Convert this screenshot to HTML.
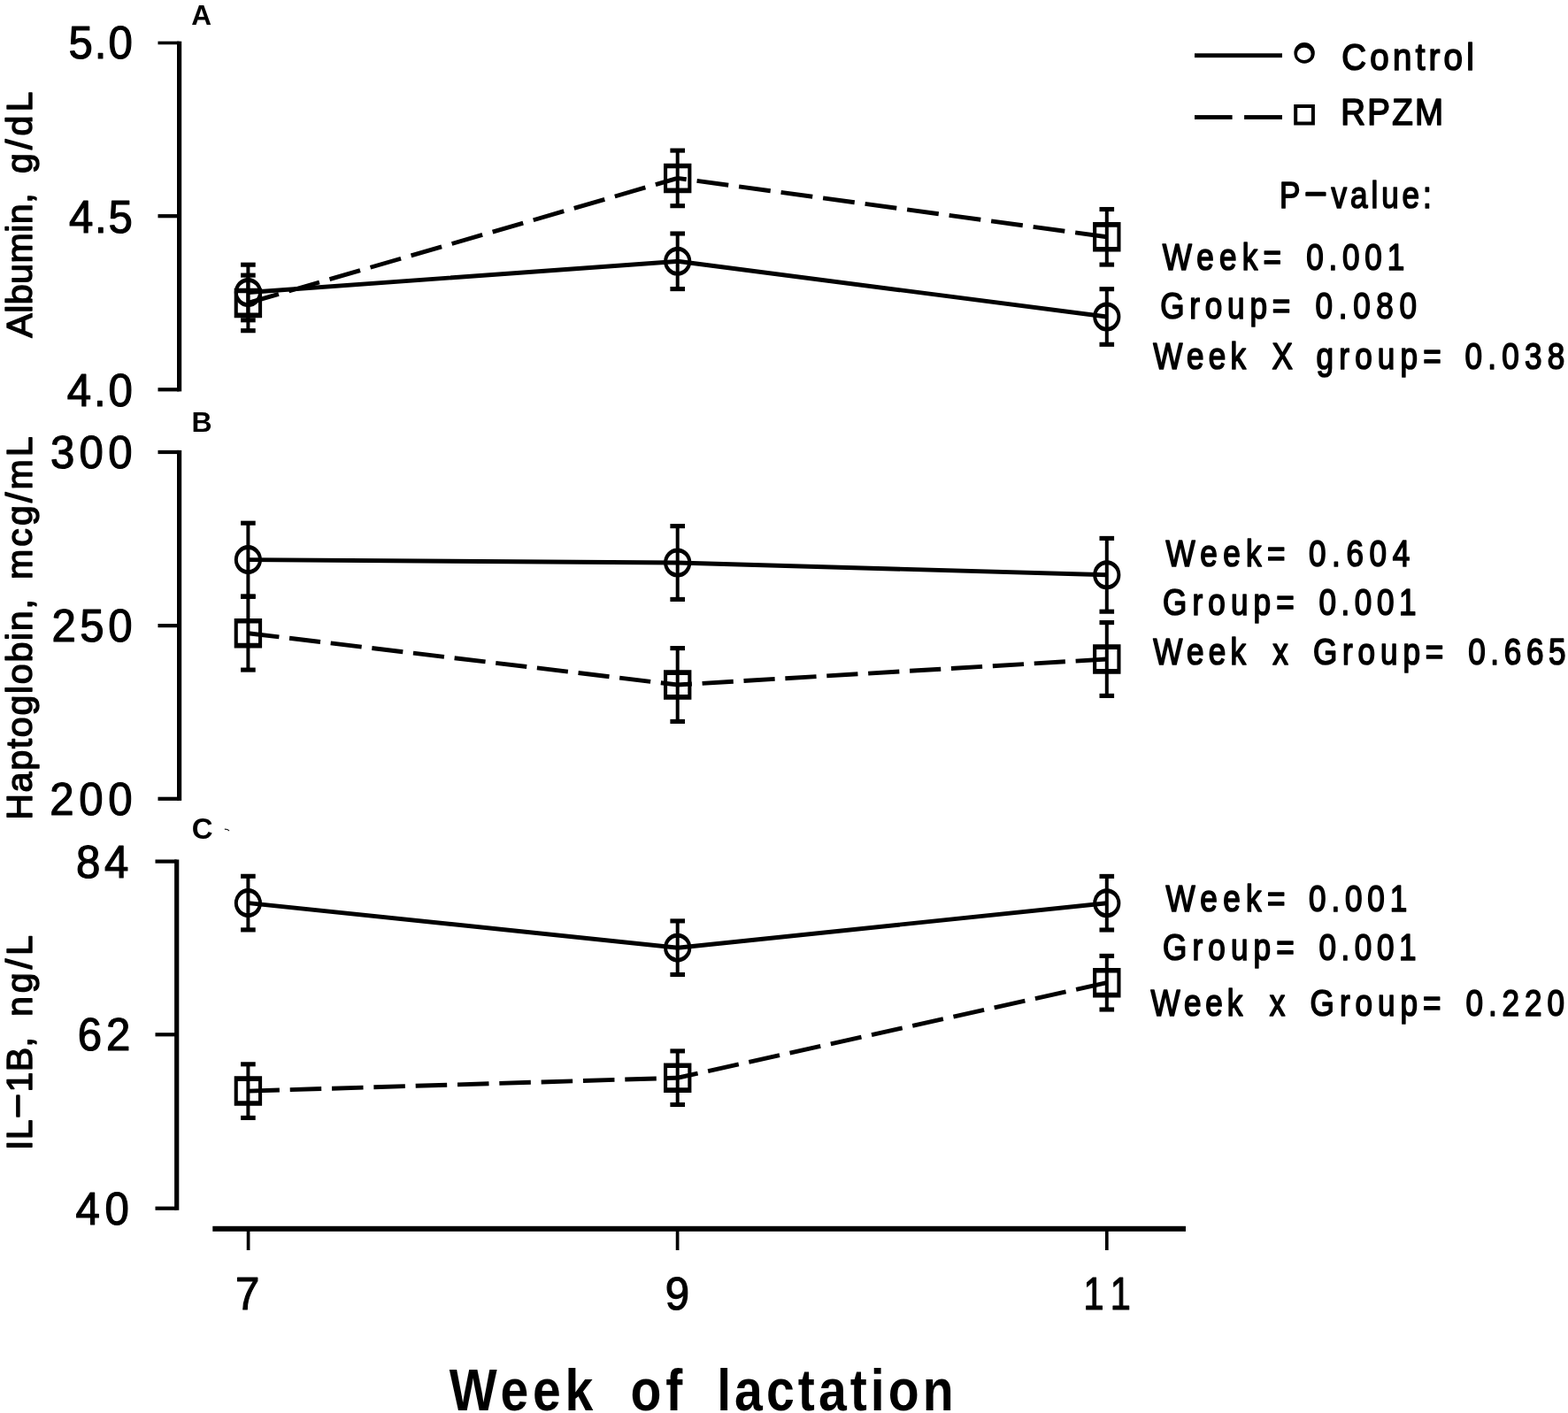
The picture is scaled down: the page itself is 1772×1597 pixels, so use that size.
<!DOCTYPE html>
<html lang="en">
<head>
<meta charset="utf-8">
<title>Albumin, haptoglobin and IL-1B by week of lactation</title>
<style>
html,body{margin:0;padding:0;background:#fff}
#fig{display:block;width:1772px;height:1597px;background:#fff}
#fig text{font-family:"Liberation Sans", sans-serif;fill:#000;white-space:pre}
</style>
</head>
<body>
<svg id="fig" width="1772" height="1597" viewBox="0 0 1772 1597">
<g id="graphics" fill="#000">
<rect x="200.00" y="46.70" width="5.20" height="395.70"/>
<rect x="178.50" y="46.70" width="24.10" height="3.60"/>
<rect x="178.50" y="242.10" width="24.10" height="4.20"/>
<rect x="178.50" y="438.20" width="24.10" height="4.20"/>
<rect x="200.00" y="508.90" width="5.20" height="396.00"/>
<rect x="178.50" y="508.90" width="24.10" height="4.20"/>
<rect x="178.50" y="705.00" width="24.10" height="4.20"/>
<rect x="178.50" y="900.70" width="24.10" height="4.20"/>
<rect x="197.10" y="971.50" width="5.20" height="396.30"/>
<rect x="175.50" y="971.50" width="24.20" height="4.20"/>
<rect x="175.50" y="1167.20" width="24.20" height="4.20"/>
<rect x="175.50" y="1363.60" width="24.20" height="4.20"/>
<rect x="240.30" y="1385.80" width="1099.70" height="6.00"/>
<rect x="278.75" y="1388.00" width="3.70" height="25.00"/>
<rect x="763.75" y="1388.00" width="3.70" height="25.00"/>
<rect x="1248.95" y="1388.00" width="3.70" height="25.00"/>
<polyline points="280.4,330.5 765.7,295.3 1250.8,358.0" fill="none" stroke="#000" stroke-width="4.9" stroke-linejoin="round"/>
<polyline points="280.4,342.4 765.7,201.4 1250.8,267.8" fill="none" stroke="#000" stroke-width="4.9" pathLength="20.75" stroke-dasharray="0.75 0.25"/>
<rect x="278.40" y="299.20" width="4.00" height="62.60"/>
<rect x="272.10" y="296.65" width="16.60" height="5.10"/>
<rect x="272.10" y="359.25" width="16.60" height="5.10"/>
<path fill-rule="evenodd" d="M264.80 330.50a15.6 16.5 0 1 0 31.2 0a15.6 16.5 0 1 0 -31.2 0zM268.80 330.50a11.6 11.5 0 1 0 23.2 0a11.6 11.5 0 1 0 -23.2 0z"/>
<rect x="763.70" y="264.00" width="4.00" height="62.60"/>
<rect x="757.40" y="261.45" width="16.60" height="5.10"/>
<rect x="757.40" y="324.05" width="16.60" height="5.10"/>
<path fill-rule="evenodd" d="M750.10 295.30a15.6 16.5 0 1 0 31.2 0a15.6 16.5 0 1 0 -31.2 0zM754.10 295.30a11.6 11.5 0 1 0 23.2 0a11.6 11.5 0 1 0 -23.2 0z"/>
<rect x="1248.80" y="326.70" width="4.00" height="62.60"/>
<rect x="1242.50" y="324.15" width="16.60" height="5.10"/>
<rect x="1242.50" y="386.75" width="16.60" height="5.10"/>
<path fill-rule="evenodd" d="M1235.20 358.00a15.6 16.5 0 1 0 31.2 0a15.6 16.5 0 1 0 -31.2 0zM1239.20 358.00a11.6 11.5 0 1 0 23.2 0a11.6 11.5 0 1 0 -23.2 0z"/>
<rect x="278.40" y="311.10" width="4.00" height="62.60"/>
<rect x="272.10" y="308.55" width="16.60" height="5.10"/>
<rect x="272.10" y="371.15" width="16.60" height="5.10"/>
<path fill-rule="evenodd" d="M264.70 325.65h31.4v33.5h-31.4zM268.80 331.30h23.2v22.2h-23.2z"/>
<rect x="763.70" y="170.10" width="4.00" height="62.60"/>
<rect x="757.40" y="167.55" width="16.60" height="5.10"/>
<rect x="757.40" y="230.15" width="16.60" height="5.10"/>
<path fill-rule="evenodd" d="M750.00 184.65h31.4v33.5h-31.4zM754.10 190.30h23.2v22.2h-23.2z"/>
<rect x="1248.80" y="236.50" width="4.00" height="62.60"/>
<rect x="1242.50" y="233.95" width="16.60" height="5.10"/>
<rect x="1242.50" y="296.55" width="16.60" height="5.10"/>
<path fill-rule="evenodd" d="M1235.10 251.05h31.4v33.5h-31.4zM1239.20 256.70h23.2v22.2h-23.2z"/>
<polyline points="280.4,632.6 765.7,636.0 1250.8,649.8" fill="none" stroke="#000" stroke-width="4.9" stroke-linejoin="round"/>
<polyline points="280.4,715.7 765.7,774.0 1250.8,745.0" fill="none" stroke="#000" stroke-width="4.9" pathLength="20.75" stroke-dasharray="0.75 0.25"/>
<rect x="278.40" y="591.20" width="4.00" height="82.80"/>
<rect x="272.10" y="588.65" width="16.60" height="5.10"/>
<rect x="272.10" y="671.45" width="16.60" height="5.10"/>
<path fill-rule="evenodd" d="M264.80 632.60a15.6 16.5 0 1 0 31.2 0a15.6 16.5 0 1 0 -31.2 0zM268.80 632.60a11.6 11.5 0 1 0 23.2 0a11.6 11.5 0 1 0 -23.2 0z"/>
<rect x="763.70" y="594.60" width="4.00" height="82.80"/>
<rect x="757.40" y="592.05" width="16.60" height="5.10"/>
<rect x="757.40" y="674.85" width="16.60" height="5.10"/>
<path fill-rule="evenodd" d="M750.10 636.00a15.6 16.5 0 1 0 31.2 0a15.6 16.5 0 1 0 -31.2 0zM754.10 636.00a11.6 11.5 0 1 0 23.2 0a11.6 11.5 0 1 0 -23.2 0z"/>
<rect x="1248.80" y="608.40" width="4.00" height="82.80"/>
<rect x="1242.50" y="605.85" width="16.60" height="5.10"/>
<rect x="1242.50" y="688.65" width="16.60" height="5.10"/>
<path fill-rule="evenodd" d="M1235.20 649.80a15.6 16.5 0 1 0 31.2 0a15.6 16.5 0 1 0 -31.2 0zM1239.20 649.80a11.6 11.5 0 1 0 23.2 0a11.6 11.5 0 1 0 -23.2 0z"/>
<rect x="278.40" y="674.30" width="4.00" height="82.80"/>
<rect x="272.10" y="671.75" width="16.60" height="5.10"/>
<rect x="272.10" y="754.55" width="16.60" height="5.10"/>
<path fill-rule="evenodd" d="M264.70 698.95h31.4v33.5h-31.4zM268.80 704.60h23.2v22.2h-23.2z"/>
<rect x="763.70" y="732.60" width="4.00" height="82.80"/>
<rect x="757.40" y="730.05" width="16.60" height="5.10"/>
<rect x="757.40" y="812.85" width="16.60" height="5.10"/>
<path fill-rule="evenodd" d="M750.00 757.25h31.4v33.5h-31.4zM754.10 762.90h23.2v22.2h-23.2z"/>
<rect x="1248.80" y="703.60" width="4.00" height="82.80"/>
<rect x="1242.50" y="701.05" width="16.60" height="5.10"/>
<rect x="1242.50" y="783.85" width="16.60" height="5.10"/>
<path fill-rule="evenodd" d="M1235.10 728.25h31.4v33.5h-31.4zM1239.20 733.90h23.2v22.2h-23.2z"/>
<polyline points="280.4,1020.6 765.7,1071.2 1250.8,1020.7" fill="none" stroke="#000" stroke-width="4.9" stroke-linejoin="round"/>
<polyline points="280.4,1233.1 765.7,1218.2 1250.8,1110.7" fill="none" stroke="#000" stroke-width="4.9" pathLength="20.75" stroke-dasharray="0.75 0.25"/>
<rect x="278.40" y="990.30" width="4.00" height="60.60"/>
<rect x="272.10" y="987.75" width="16.60" height="5.10"/>
<rect x="272.10" y="1048.35" width="16.60" height="5.10"/>
<path fill-rule="evenodd" d="M264.80 1020.60a15.6 16.5 0 1 0 31.2 0a15.6 16.5 0 1 0 -31.2 0zM268.80 1020.60a11.6 11.5 0 1 0 23.2 0a11.6 11.5 0 1 0 -23.2 0z"/>
<rect x="763.70" y="1040.90" width="4.00" height="60.60"/>
<rect x="757.40" y="1038.35" width="16.60" height="5.10"/>
<rect x="757.40" y="1098.95" width="16.60" height="5.10"/>
<path fill-rule="evenodd" d="M750.10 1071.20a15.6 16.5 0 1 0 31.2 0a15.6 16.5 0 1 0 -31.2 0zM754.10 1071.20a11.6 11.5 0 1 0 23.2 0a11.6 11.5 0 1 0 -23.2 0z"/>
<rect x="1248.80" y="990.40" width="4.00" height="60.60"/>
<rect x="1242.50" y="987.85" width="16.60" height="5.10"/>
<rect x="1242.50" y="1048.45" width="16.60" height="5.10"/>
<path fill-rule="evenodd" d="M1235.20 1020.70a15.6 16.5 0 1 0 31.2 0a15.6 16.5 0 1 0 -31.2 0zM1239.20 1020.70a11.6 11.5 0 1 0 23.2 0a11.6 11.5 0 1 0 -23.2 0z"/>
<rect x="278.40" y="1202.80" width="4.00" height="60.60"/>
<rect x="272.10" y="1200.25" width="16.60" height="5.10"/>
<rect x="272.10" y="1260.85" width="16.60" height="5.10"/>
<path fill-rule="evenodd" d="M264.70 1216.35h31.4v33.5h-31.4zM268.80 1222.00h23.2v22.2h-23.2z"/>
<rect x="763.70" y="1187.90" width="4.00" height="60.60"/>
<rect x="757.40" y="1185.35" width="16.60" height="5.10"/>
<rect x="757.40" y="1245.95" width="16.60" height="5.10"/>
<path fill-rule="evenodd" d="M750.00 1201.45h31.4v33.5h-31.4zM754.10 1207.10h23.2v22.2h-23.2z"/>
<rect x="1248.80" y="1080.40" width="4.00" height="60.60"/>
<rect x="1242.50" y="1077.85" width="16.60" height="5.10"/>
<rect x="1242.50" y="1138.45" width="16.60" height="5.10"/>
<path fill-rule="evenodd" d="M1235.10 1093.95h31.4v33.5h-31.4zM1239.20 1099.60h23.2v22.2h-23.2z"/>
<rect x="1350.00" y="60.30" width="99.00" height="4.80"/>
<path fill-rule="evenodd" d="M1462.4 59.95a11.7 11.9 0 1 0 23.4 0a11.7 11.9 0 1 0 -23.4 0zM1465.95 60.9a7.85 7.1 0 1 0 15.7 0a7.85 7.1 0 1 0 -15.7 0z"/>
<rect x="1350.00" y="130.10" width="42.60" height="4.80"/>
<rect x="1406.10" y="130.10" width="42.90" height="4.80"/>
<rect x="1464.2" y="120" width="19.7" height="19.5" fill="none" stroke="#000" stroke-width="4"/>
<path d="M253.8 936.6L257.2 936.9L259.3 938.6L258.9 939.4L256.6 938.1L253.9 937.7z" opacity="0.9"/>
</g>
<g id="labels">
<text transform="translate(0 66.40) scale(0.95 1)" font-size="51.8" stroke="#000" stroke-width="1.2" stroke-linejoin="round"><tspan x="81.58" letter-spacing="2.05">5.0</tspan></text>
<text transform="translate(0 262.70) scale(0.95 1)" font-size="51.8" stroke="#000" stroke-width="1.2" stroke-linejoin="round"><tspan x="82.11" letter-spacing="1.79">4.5</tspan></text>
<text transform="translate(0 458.80) scale(0.95 1)" font-size="51.8" stroke="#000" stroke-width="1.2" stroke-linejoin="round"><tspan x="79.79" letter-spacing="2.95">4.0</tspan></text>
<text transform="translate(0 529.20) scale(0.95 1)" font-size="51.8" stroke="#000" stroke-width="1.2" stroke-linejoin="round"><tspan x="60.00" letter-spacing="5.53">300</tspan></text>
<text transform="translate(0 725.20) scale(0.95 1)" font-size="51.8" stroke="#000" stroke-width="1.2" stroke-linejoin="round"><tspan x="61.47" letter-spacing="4.85">250</tspan></text>
<text transform="translate(0 921.30) scale(0.95 1)" font-size="51.8" stroke="#000" stroke-width="1.2" stroke-linejoin="round"><tspan x="59.15" letter-spacing="6.00">200</tspan></text>
<text transform="translate(0 991.50) scale(0.95 1)" font-size="51.8" stroke="#000" stroke-width="1.2" stroke-linejoin="round"><tspan x="90.42" letter-spacing="5.09">84</tspan></text>
<text transform="translate(0 1187.40) scale(0.95 1)" font-size="51.8" stroke="#000" stroke-width="1.2" stroke-linejoin="round"><tspan x="92.49" letter-spacing="5.15">62</tspan></text>
<text transform="translate(0 1383.70) scale(0.95 1)" font-size="51.8" stroke="#000" stroke-width="1.2" stroke-linejoin="round"><tspan x="89.89" letter-spacing="6.11">40</tspan></text>
<text transform="translate(0 1480.40) scale(0.95 1)" font-size="51.8" stroke="#000" stroke-width="1.2" stroke-linejoin="round"><tspan x="280.03">7</tspan></text>
<text transform="translate(0 1480.40) scale(0.95 1)" font-size="51.8" stroke="#000" stroke-width="1.2" stroke-linejoin="round"><tspan x="791.45">9</tspan></text>
<text transform="translate(0 1480.40) scale(0.8 1)" font-size="51.8" stroke="#000" stroke-width="1.2" stroke-linejoin="round"><tspan x="1530.52" letter-spacing="13.10">11</tspan></text>
<text transform="translate(0 28.30)" font-size="31.5" font-weight="bold"><tspan x="216.18">A</tspan></text>
<text transform="translate(0 487.90)" font-size="32" font-weight="bold"><tspan x="216.60">B</tspan></text>
<text transform="translate(0 948.00)" font-size="33" font-weight="bold"><tspan x="216.65">C</tspan></text>
<text transform="translate(0 78.65) scale(0.9 1)" font-size="42.8" stroke="#000" stroke-width="1.7" stroke-linejoin="round"><tspan x="1684.78" letter-spacing="4.70">Control</tspan></text>
<text transform="translate(0 141.45) scale(0.9 1)" font-size="42.8" stroke="#000" stroke-width="1.7" stroke-linejoin="round"><tspan x="1683.67" letter-spacing="2.48">RPZM</tspan></text>
<text transform="translate(0 235.45) scale(0.83 1)" font-size="42.3" stroke="#000" stroke-width="1.7" stroke-linejoin="round"><tspan x="1742.17" letter-spacing="4.69">P</tspan><tspan dy="-4.4" textLength="33" lengthAdjust="spacingAndGlyphs">-</tspan><tspan dy="4.4" letter-spacing="4.69" dx="4.69">value:</tspan></text>
<text transform="translate(0 305.35) scale(0.83 1)" font-size="42.3" stroke="#000" stroke-width="1.7" stroke-linejoin="round"><tspan x="1582.77" letter-spacing="7.45">Week= </tspan><tspan x="1778.58" letter-spacing="6.96">0.001</tspan></text>
<text transform="translate(0 360.05) scale(0.83 1)" font-size="42.3" stroke="#000" stroke-width="1.7" stroke-linejoin="round"><tspan x="1579.76" letter-spacing="6.98">Group= </tspan><tspan x="1791.11" letter-spacing="8.00">0.080</tspan></text>
<text transform="translate(0 416.55) scale(0.83 1)" font-size="42.3" stroke="#000" stroke-width="1.7" stroke-linejoin="round"><tspan x="1570.24" letter-spacing="6.28">Week </tspan><tspan x="1731.92">X </tspan><tspan x="1792.32" letter-spacing="7.43">group= </tspan><tspan x="1994.72" letter-spacing="7.47">0.038</tspan></text>
<text transform="translate(0 639.85) scale(0.83 1)" font-size="42.3" stroke="#000" stroke-width="1.7" stroke-linejoin="round"><tspan x="1587.23" letter-spacing="7.70">Week= </tspan><tspan x="1781.95" letter-spacing="7.93">0.604</tspan></text>
<text transform="translate(0 695.15) scale(0.83 1)" font-size="42.3" stroke="#000" stroke-width="1.7" stroke-linejoin="round"><tspan x="1583.13" letter-spacing="7.40">Group= </tspan><tspan x="1795.68" letter-spacing="6.72">0.001</tspan></text>
<text transform="translate(0 751.45) scale(0.83 1)" font-size="42.3" stroke="#000" stroke-width="1.7" stroke-linejoin="round"><tspan x="1570.24" letter-spacing="6.28">Week </tspan><tspan x="1732.87">x </tspan><tspan x="1787.83" letter-spacing="7.07">Group= </tspan><tspan x="1999.06" letter-spacing="6.78">0.665</tspan></text>
<text transform="translate(0 1029.85) scale(0.83 1)" font-size="42.3" stroke="#000" stroke-width="1.7" stroke-linejoin="round"><tspan x="1587.23" letter-spacing="7.70">Week= </tspan><tspan x="1781.95" letter-spacing="7.05">0.001</tspan></text>
<text transform="translate(0 1085.15) scale(0.83 1)" font-size="42.3" stroke="#000" stroke-width="1.7" stroke-linejoin="round"><tspan x="1583.13" letter-spacing="7.40">Group= </tspan><tspan x="1795.68" letter-spacing="6.72">0.001</tspan></text>
<text transform="translate(0 1148.15) scale(0.83 1)" font-size="42.3" stroke="#000" stroke-width="1.7" stroke-linejoin="round"><tspan x="1566.99" letter-spacing="5.84">Week </tspan><tspan x="1728.66">x </tspan><tspan x="1783.86" letter-spacing="7.21">Group= </tspan><tspan x="1995.68" letter-spacing="7.19">0.220</tspan></text>
<text transform="translate(0 1594.00) scale(0.86 1)" font-size="66.5" font-weight="bold"><tspan x="590.35" letter-spacing="5.56">Week </tspan><tspan x="828.60" letter-spacing="5.37">of </tspan><tspan x="942.09" letter-spacing="4.71">lactation</tspan></text>
<text transform="translate(35.50 0) rotate(-90) scale(1.02 1)" font-size="40.4" stroke="#000" stroke-width="1.4" stroke-linejoin="round"><tspan x="-374.31" letter-spacing="0.43">Albumin, </tspan><tspan x="-192.06" letter-spacing="3.97">g/dL</tspan></text>
<text transform="translate(35.50 0) rotate(-90) scale(1.02 1)" font-size="40.4" stroke="#000" stroke-width="1.4" stroke-linejoin="round"><tspan x="-908.69" letter-spacing="1.64">Haptoglobin, </tspan><tspan x="-642.25" letter-spacing="3.00">mcg/mL</tspan></text>
<text transform="translate(35.70 0) rotate(-90) scale(1.02 1)" font-size="40.4" stroke="#000" stroke-width="1.4" stroke-linejoin="round"><tspan x="-1274.51" letter-spacing="0.20">IL</tspan><tspan dy="-4.4" textLength="30" lengthAdjust="spacingAndGlyphs">-</tspan><tspan dy="4.4" letter-spacing="0.20" dx="0.20">1B, </tspan><tspan x="-1126.47" letter-spacing="3.83">ng/L</tspan></text>
</g>
</svg>
</body>
</html>
